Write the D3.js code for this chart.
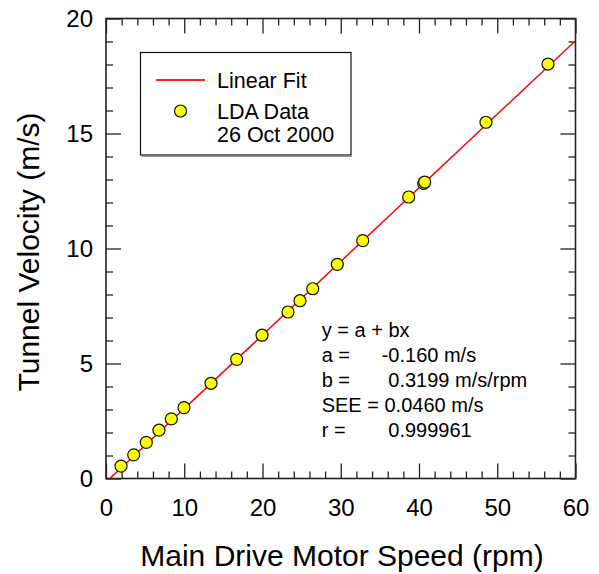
<!DOCTYPE html>
<html>
<head>
<meta charset="utf-8">
<script src="https://cdn.jsdelivr.net/npm/d3@7"></script>
<style>
  html, body { margin: 0; padding: 0; background: #fff; }
  svg { display: block; font-family: "Liberation Sans", Arial, Helvetica, sans-serif; }
</style>
</head>
<body>
<svg id="chart" width="599" height="574"></svg>
<script>
// ---- Data ----
const speed    = [1.92, 3.54, 5.15, 6.77, 8.35, 9.97, 13.42, 16.70, 19.94, 23.26, 24.79, 26.42, 29.56, 32.81, 38.68, 40.60, 40.73, 48.56, 56.49];
const velocity = [0.54, 1.03, 1.57, 2.10, 2.59, 3.08, 4.14, 5.18, 6.23, 7.24, 7.73, 8.25, 9.31, 10.34, 12.24, 12.83, 12.89, 15.49, 18.02];
const fitA = -0.160;   // intercept m/s
const fitB = 0.3199;   // slope m/s/rpm
const xTicks = [0, 10, 20, 30, 40, 50, 60];
const yTicks = [0, 5, 10, 15, 20];
const legendLabels = ["Linear Fit", "LDA Data", "26 Oct 2000"];
const statsLabels = ["y = a + bx", "a =", "b =", "SEE = 0.0460 m/s", "r ="];
const statsValues = ["", "-0.160 m/s", "0.3199 m/s/rpm", "", "0.999961"];

// ---- Layout ----
const L = 106, R = 575.5, T = 18.5, B = 478.5;
const svg = d3.select("#chart");
const x = d3.scaleLinear().domain([0, 60]).range([L, R]);
const y = d3.scaleLinear().domain([0, 20]).range([B, T]);

const axisColor = "#222";
const minorX = d3.range(0, 61, 2).filter(v => v % 10 !== 0);
const minorY = d3.range(0, 21, 1).filter(v => v % 5 !== 0);

function styleAxis(g) {
  g.select(".domain").remove();
  g.selectAll(".tick line").attr("stroke", axisColor).attr("stroke-width", 1.3);
  g.selectAll(".tick text").attr("fill", "#000").style("font-size", "24px")
    .style("font-family", '"Liberation Sans", Arial, sans-serif');
}

// bottom
svg.append("g").attr("transform", `translate(0,${B})`)
  .call(d3.axisBottom(x).tickValues(xTicks).tickSize(-15).tickPadding(20).tickFormat(d3.format("d")))
  .call(styleAxis);
svg.append("g").attr("transform", `translate(0,${B})`)
  .call(d3.axisBottom(x).tickValues(minorX).tickSize(-7).tickFormat(""))
  .call(styleAxis);
// top
svg.append("g").attr("transform", `translate(0,${T})`)
  .call(d3.axisTop(x).tickValues(xTicks).tickSize(-15).tickFormat(""))
  .call(styleAxis);
svg.append("g").attr("transform", `translate(0,${T})`)
  .call(d3.axisTop(x).tickValues(minorX).tickSize(-7).tickFormat(""))
  .call(styleAxis);
// left
svg.append("g").attr("transform", `translate(${L},0)`)
  .call(d3.axisLeft(y).tickValues(yTicks).tickSize(-15).tickPadding(13).tickFormat(d3.format("d")))
  .call(styleAxis);
svg.append("g").attr("transform", `translate(${L},0)`)
  .call(d3.axisLeft(y).tickValues(minorY).tickSize(-7).tickFormat(""))
  .call(styleAxis);
// right
svg.append("g").attr("transform", `translate(${R},0)`)
  .call(d3.axisRight(y).tickValues(yTicks).tickSize(-15).tickFormat(""))
  .call(styleAxis);
svg.append("g").attr("transform", `translate(${R},0)`)
  .call(d3.axisRight(y).tickValues(minorY).tickSize(-7).tickFormat(""))
  .call(styleAxis);

// frame
svg.append("rect").attr("x", L).attr("y", T).attr("width", R - L).attr("height", B - T)
  .attr("fill", "none").attr("stroke", axisColor).attr("stroke-width", 1.6);

// clip
svg.append("clipPath").attr("id", "plotclip")
  .append("rect").attr("x", L).attr("y", T).attr("width", R - L).attr("height", B - T);

// fit line
const x0 = -fitA / fitB;
const fitPts = [[x0, fitA + fitB * x0], [60, fitA + fitB * 60]];
svg.append("path").attr("clip-path", "url(#plotclip)")
  .attr("d", d3.line().x(d => x(d[0])).y(d => y(d[1]))(fitPts))
  .attr("fill", "none").attr("stroke", "#ff0000").attr("stroke-width", 1.5);

// points
svg.append("g").selectAll("circle").data(speed.map((s, i) => [s, velocity[i]])).join("circle")
  .attr("cx", d => x(d[0])).attr("cy", d => y(d[1])).attr("r", 6)
  .attr("fill", "#ffff00").attr("stroke", "#111").attr("stroke-width", 1.2);

// legend
const lg = svg.append("g");
lg.append("line").attr("x1", 142).attr("y1", 156.5).attr("x2", 352).attr("y2", 156.5)
  .attr("stroke", "#999").attr("stroke-width", 1);
lg.append("rect").attr("x", 140.5).attr("y", 52.5).attr("width", 210.5).attr("height", 102.5)
  .attr("fill", "#fff").attr("stroke", "#111").attr("stroke-width", 1.2);
lg.append("line").attr("x1", 156).attr("x2", 205).attr("y1", 80).attr("y2", 80)
  .attr("stroke", "#ff2020").attr("stroke-width", 1.8);
lg.append("circle").attr("cx", 180.5).attr("cy", 111).attr("r", 6)
  .attr("fill", "#ffff00").attr("stroke", "#111").attr("stroke-width", 1.2);
const legY = [88.3, 119.3, 141.7];
lg.selectAll("text").data(legendLabels).join("text")
  .attr("x", 217).attr("y", (d, i) => legY[i]).text(d => d)
  .style("font-size", "21.5px").attr("fill", "#000");

// stats
const stY = [336.7, 362.3, 387.3, 411.7, 436.7];
const valX = [0, 381.7, 388.3, 0, 388.3];
const st = svg.append("g").style("font-size", "20px").attr("fill", "#000");
st.selectAll("text.lab").data(statsLabels).join("text").attr("class", "lab")
  .attr("x", 321.7).attr("y", (d, i) => stY[i]).text(d => d);
st.selectAll("text.val").data(statsValues).join("text").attr("class", "val")
  .attr("x", (d, i) => valX[i]).attr("y", (d, i) => stY[i]).text(d => d);

// axis titles
svg.append("text").attr("x", 342).attr("y", 566).attr("text-anchor", "middle")
  .style("font-size", "30px").attr("fill", "#000").text("Main Drive Motor Speed (rpm)");
svg.append("text").attr("transform", "translate(39,252) rotate(-90)").attr("text-anchor", "middle")
  .style("font-size", "30px").attr("fill", "#000").text("Tunnel Velocity (m/s)");
</script>
</body>
</html>
